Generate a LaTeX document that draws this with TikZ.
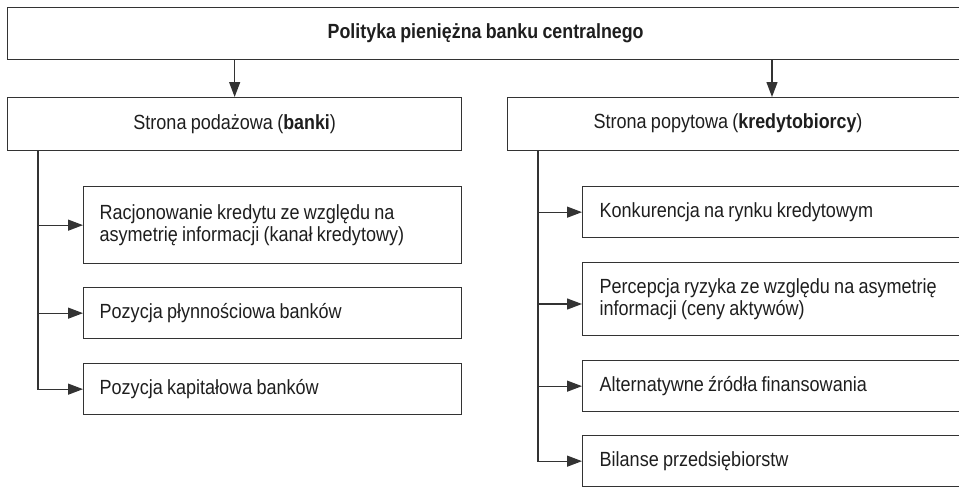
\documentclass[tikz,border=0pt]{standalone}
\usepackage{fontspec}
\setmainfont{Liberation Sans}[FakeStretch=0.88, WordSpace=0.85, BoldFeatures={FakeStretch=0.87}]
\usetikzlibrary{arrows.meta}

\definecolor{kreska}{HTML}{333333}
\definecolor{tekst}{HTML}{1E1E1E}

\tikzset{
  ramka/.style={draw=kreska, line width=0.65pt, rectangle, inner sep=0pt, anchor=north west},
  pole/.style={ramka, align=flush left, text width=#1, inner xsep=8pt, minimum height=25.5pt},
  linia/.style={draw=kreska, line width=0.65pt},
  strzalka/.style={linia, -{Triangle[length=7.5pt,width=5.5pt]}},
}

\begin{document}
\begin{tikzpicture}[x=0.5pt, y=-0.5pt, font=\fontsize{10.25}{11.25}\selectfont, text=tekst]

  % Ramka obrazka
  \useasboundingbox (0,0) rectangle (959,488);
  \clip (0,0) rectangle (959,488);

  % Poziom 1
  \node[ramka, minimum width=478pt, minimum height=26pt] (polityka) at (7,7)
    {\bfseries Polityka pieniężna banku centralnego};

  % Poziom 2
  \node[ramka, minimum width=227pt, minimum height=26.5pt] (podaz) at (7,97)
    {Strona podażowa (\textbf{banki})};
  \node[ramka, minimum width=240pt, minimum height=26.5pt] (popyt) at (507,97) {};
  \node[inner sep=0pt] (popyt-napis) at (728,123.5)
    {Strona popytowa (\textbf{kredytobiorcy})};
  \coordinate (popyt-wejscie) at (772,97);

  % Strona podazowa
  \node[pole=173pt, minimum height=38.5pt] (racjon) at (83,186)
    {Racjonowanie kredytu ze względu na\\asymetrię informacji (kanał kredytowy)};
  \node[pole=173pt] (plynnosc) at (83,287) {Pozycja płynnościowa banków};
  \node[pole=173pt] (kapital) at (83,363) {Pozycja kapitałowa banków};

  % Strona popytowa
  \node[pole=180pt, inner xsep=8.5pt] (konkur) at (582,186) {Konkurencja na rynku kredytowym};
  \node[pole=180pt, inner xsep=8.5pt, minimum height=36.5pt] (percep) at (582,262)
    {Percepcja ryzyka ze względu na asymetrię\\informacji (ceny aktywów)};
  \node[pole=180pt, inner xsep=8.5pt] (altern) at (582,360) {Alternatywne źródła finansowania};
  \node[pole=180pt, inner xsep=8.5pt] (bilanse) at (582,435) {Bilanse przedsiębiorstw};

  % Strzalki z gory
  \draw[strzalka] (polityka.south -| podaz.north) -- (podaz.north);
  \draw[strzalka] (polityka.south -| popyt-wejscie) -- (popyt-wejscie);

  % Pnie
  \coordinate (pien-l) at (38,150);
  \coordinate (pien-p) at (538,150);

  \draw[strzalka] (pien-l) |- (kapital.west);
  \foreach \pole in {racjon, plynnosc}
    \draw[strzalka] (pien-l |- \pole.west) -- (\pole.west);

  \draw[strzalka] (pien-p) |- (bilanse.west);
  \foreach \pole in {konkur, altern}
    \draw[strzalka] (pien-p |- \pole.west) -- (\pole.west);
  \draw[strzalka] (pien-p |- 0,304) -- (percep.west |- 0,304);

\end{tikzpicture}
\end{document}
